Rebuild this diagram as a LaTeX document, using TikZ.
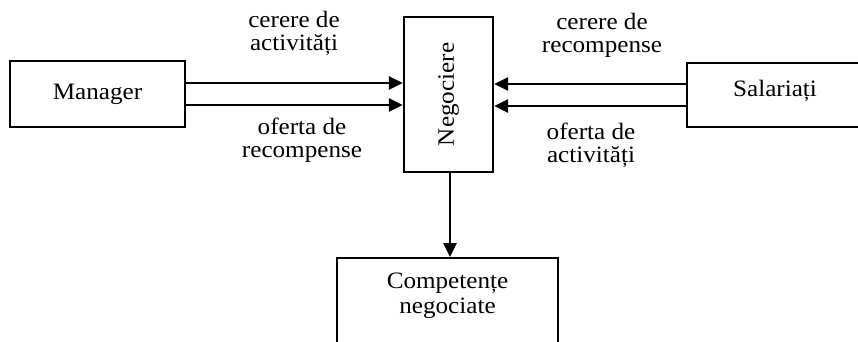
\documentclass[tikz,border=0pt]{standalone}
\usepackage{fontspec}
\setmainfont{Liberation Serif}[FakeStretch=1.07]
\usetikzlibrary{arrows.meta}
\begin{document}
\begin{tikzpicture}[x=1pt,y=-1pt,
  every node/.style={font=\fontsize{23.5}{23}\selectfont},
  box/.style={draw,line width=2.4pt,rectangle,inner sep=0pt},
  lbl/.style={align=center,inner sep=0pt},
  arr/.style={line width=2.8pt,-{Triangle[length=14pt,width=13pt]}}]
\useasboundingbox (0,0) rectangle (858,342);
\clip (0,0) rectangle (858,342);
\node[box,minimum width=175pt,minimum height=66pt] (mgr) at (97.5,94) {Manager};
\node[box,minimum width=89pt,minimum height=155pt] (neg) at (448.5,94.5) {};
\node[rotate=90,inner sep=0pt] (negtext) at (neg.center) {Negociere};
\node[box,minimum width=180pt,minimum height=64pt] (sal) at (777,95) {};
\node[inner sep=0pt] (saltext) at (775,91) {Salariați};
\node[box,minimum width=221pt,minimum height=130pt,anchor=north] (comp) at (447.5,257) {};
\node[lbl,font=\fontsize{23.5}{25}\selectfont] (comptext) at (447.5,296) {Competențe\\negociate};
\draw[arr] ([yshift=11pt]mgr.east) -- ([yshift=11pt]mgr.east -| neg.west);
\draw[arr] ([yshift=-11pt]mgr.east) -- ([yshift=-11pt]mgr.east -| neg.west);
\draw[arr] ([yshift=11pt]sal.west) -- ([yshift=11pt]sal.west -| neg.east);
\draw[arr] ([yshift=-11pt]sal.west) -- ([yshift=-11pt]sal.west -| neg.east);
\draw[arr] ([xshift=1.5pt]neg.south) -- ([xshift=1.5pt]neg.south |- comp.north);
\node[lbl] (l1) at (294,33) {cerere de\\activități};
\node[lbl] (l2) at (302,140) {oferta de\\recompense};
\node[lbl] (l3) at (602,35) {cerere de\\recompense};
\node[lbl] (l4) at (591,145) {oferta de\\activități};
\end{tikzpicture}
\end{document}
